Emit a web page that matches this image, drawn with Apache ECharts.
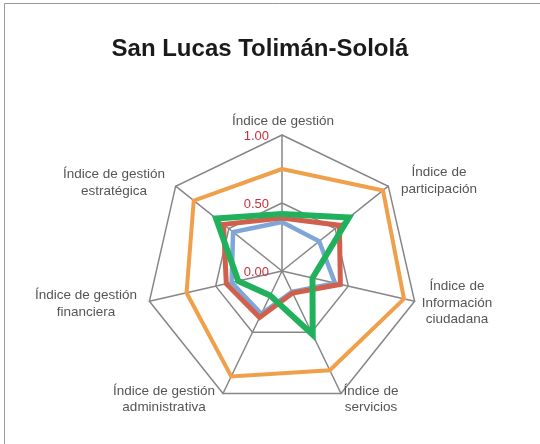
<!DOCTYPE html>
<html>
<head>
<meta charset="utf-8">
<script src="https://cdn.jsdelivr.net/npm/echarts@6/dist/echarts.min.js"></script>
<style>
html,body{margin:0;padding:0;background:#fff;}
#chart{width:540px;height:444px;}
</style>
</head>
<body>
<div id="chart"></div>
<script>
// Categories in clockwise order starting from the top
var categories = [
  'Índice de gestión',
  'Índice de\nparticipación',
  'Índice de\nInformación\nciudadana',
  'Índice de\nservicios',
  'Índice de gestión\nadministrativa',
  'Índice de gestión\nfinanciera',
  'Índice de gestión\nestratégica'
];
var seriesOrange = [0.75, 0.95, 0.92, 0.81, 0.86, 0.72, 0.83];
var seriesBlue   = [0.36, 0.35, 0.40, 0.17, 0.35, 0.38, 0.46];
var seriesRed    = [0.39, 0.54, 0.44, 0.18, 0.38, 0.42, 0.55];
var seriesGreen  = [0.42, 0.63, 0.23, 0.52, 0.20, 0.33, 0.62];
var tickValues = [0, 0.5, 1];
var tickLabels = ['0.00', '0.50', '1.00'];
var titleText = 'San Lucas Tolimán-Sololá';

// Layout
var cx = 282, cy = 271, R = 136;
// Label anchor positions (centre of text block)
var labelPos = [
  [283, 121], [439, 181], [457, 303], [371, 399.5], [164, 399.5], [86, 304], [114, 183]
];

// ECharts places indicators counter-clockwise; reorder
var order = [0, 6, 5, 4, 3, 2, 1];
function reorder(arr) { return order.map(function (i) { return arr[i]; }); }

var indicators = reorder(categories).map(function (n) { return { name: n, min: 0, max: 1 }; });

var graphics = [
  { type: 'rect', shape: { x: 4.5, y: 3.5, width: 700, height: 700 },
    style: { fill: 'none', stroke: '#9a9a9a', lineWidth: 1 }, z: 0 }
];
categories.forEach(function (c, i) {
  graphics.push({
    type: 'text', x: labelPos[i][0], y: labelPos[i][1], z: 10,
    style: { text: c, fill: '#555', font: '13.5px "Liberation Sans", Arial, sans-serif',
             align: 'center', verticalAlign: 'middle', lineHeight: 16.5 }
  });
});
tickValues.forEach(function (v, i) {
  graphics.push({
    type: 'text', x: cx - 13, y: cy - R * v + 1, z: 10,
    style: { text: tickLabels[i], fill: '#c9303c', font: '13px "Liberation Sans", Arial, sans-serif',
             align: 'right', verticalAlign: 'middle' }
  });
});

function mk(name, data, color, width, z) {
  return {
    type: 'radar', name: name, symbol: 'none', z: z,
    lineStyle: { color: color, width: width, join: 'miter' },
    itemStyle: { color: color },
    data: [{ value: reorder(data), name: name }]
  };
}

var chart = echarts.init(document.getElementById('chart'), null, { renderer: 'canvas' });
chart.setOption({
  animation: false,
  backgroundColor: '#fff',
  title: {
    text: titleText, left: 255, top: 32, textAlign: 'center',
    textStyle: { fontFamily: '"Liberation Sans", Arial, sans-serif', fontSize: 24, fontWeight: 'bold', color: '#1a1a1a' }
  },
  radar: {
    center: [cx, cy], radius: R, startAngle: 90, shape: 'polygon', splitNumber: 2,
    indicator: indicators,
    axisName: { show: false },
    axisLine: { lineStyle: { color: '#868686', width: 1.5 } },
    splitLine: { lineStyle: { color: '#868686', width: 1.5 } },
    splitArea: { show: false },
    axisTick: { show: false },
    axisLabel: { show: false }
  },
  graphic: graphics,
  series: [
    mk('Serie 1', seriesOrange, '#f0a04b', 4, 2),
    mk('Serie 2', seriesBlue, '#7ea6d8', 4.5, 3),
    mk('Serie 3', seriesRed, '#d0604b', 5, 4),
    mk('Serie 4', seriesGreen, '#21b15c', 6, 5)
  ]
});
</script>
</body>
</html>
